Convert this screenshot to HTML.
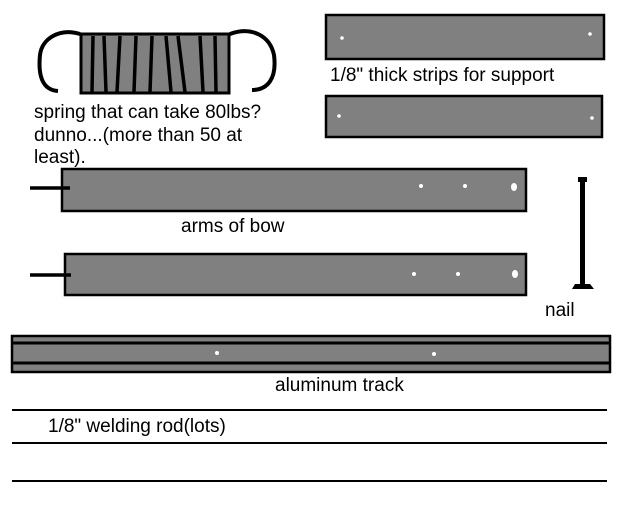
<!DOCTYPE html>
<html><head><style>body{margin:0;background:#fff}svg{display:block}text{font-family:"Liberation Sans",sans-serif;font-size:19px;fill:#000}</style></head>
<body>
<svg width="620" height="526" xmlns="http://www.w3.org/2000/svg">
<rect width="620" height="526" fill="#fff"/>
<rect x="81" y="34" width="148" height="59" fill="#808080" stroke="#000" stroke-width="3"/>
<g stroke="#000" stroke-width="3.5" fill="none">
<path d="M93 36 L92 92"/><path d="M104 36 L106 92"/><path d="M120 36 L117 92"/><path d="M136 36 L134 92"/>
<path d="M152 36 L150 92"/><path d="M166 36 L171 92"/><path d="M178 36 L185 92"/><path d="M200 36 L203 92"/><path d="M215 36 L216 92"/>
<path d="M80 34 C60 28 42 38 40 55 C38 75 42 90 58 91" stroke-width="4"/>
<path d="M230 34 C252 26 270 36 274 55 C277 78 268 90 252 90" stroke-width="4"/>
</g>
<text x="34" y="118">spring that can take 80lbs?</text>
<text x="34" y="141">dunno...(more than 50 at</text>
<text x="34" y="163">least).</text>
<rect x="326" y="15" width="278" height="44" fill="#808080" stroke="#000" stroke-width="2.5"/>
<circle cx="342" cy="38" r="1.8" fill="#fff"/><circle cx="590" cy="34" r="1.8" fill="#fff"/>
<text x="330" y="81">1/8" thick strips for support</text>
<rect x="326" y="96" width="276" height="41" fill="#808080" stroke="#000" stroke-width="2.5"/>
<circle cx="339" cy="116" r="1.8" fill="#fff"/><circle cx="592" cy="118" r="1.8" fill="#fff"/>
<rect x="62" y="169" width="464" height="42" fill="#808080" stroke="#000" stroke-width="2.5"/>
<line x1="30" y1="188" x2="70" y2="188" stroke="#000" stroke-width="3.5"/>
<circle cx="421" cy="186" r="2" fill="#fff"/><circle cx="465" cy="186" r="2" fill="#fff"/><ellipse cx="514" cy="187" rx="3" ry="4" fill="#fff"/>
<text x="181" y="232">arms of bow</text>
<rect x="65" y="254" width="461" height="41" fill="#808080" stroke="#000" stroke-width="2.5"/>
<line x1="30" y1="275" x2="71" y2="275" stroke="#000" stroke-width="3.5"/>
<circle cx="414" cy="274" r="2" fill="#fff"/><circle cx="458" cy="274" r="2" fill="#fff"/><ellipse cx="515" cy="274" rx="3" ry="4" fill="#fff"/>
<rect x="580" y="177" width="5" height="108" fill="#000"/>
<rect x="578" y="177" width="9" height="5" fill="#000"/>
<path d="M575 284 L590 284 L594 289 L572 289 Z" fill="#000"/>
<text x="545" y="316">nail</text>
<rect x="12" y="336" width="598" height="36" fill="#808080" stroke="#000" stroke-width="2.5"/>
<line x1="12" y1="343" x2="610" y2="343" stroke="#000" stroke-width="3"/>
<line x1="12" y1="363" x2="610" y2="363" stroke="#000" stroke-width="3"/>
<circle cx="217" cy="353" r="2" fill="#fff"/><circle cx="434" cy="354" r="2" fill="#fff"/>
<text x="275" y="391">aluminum track</text>
<line x1="12" y1="410" x2="607" y2="410" stroke="#000" stroke-width="2"/>
<text x="48" y="432">1/8" welding rod(lots)</text>
<line x1="12" y1="443" x2="607" y2="443" stroke="#000" stroke-width="2"/>
<line x1="12" y1="481" x2="607" y2="481" stroke="#000" stroke-width="2"/>
</svg>
</body></html>
